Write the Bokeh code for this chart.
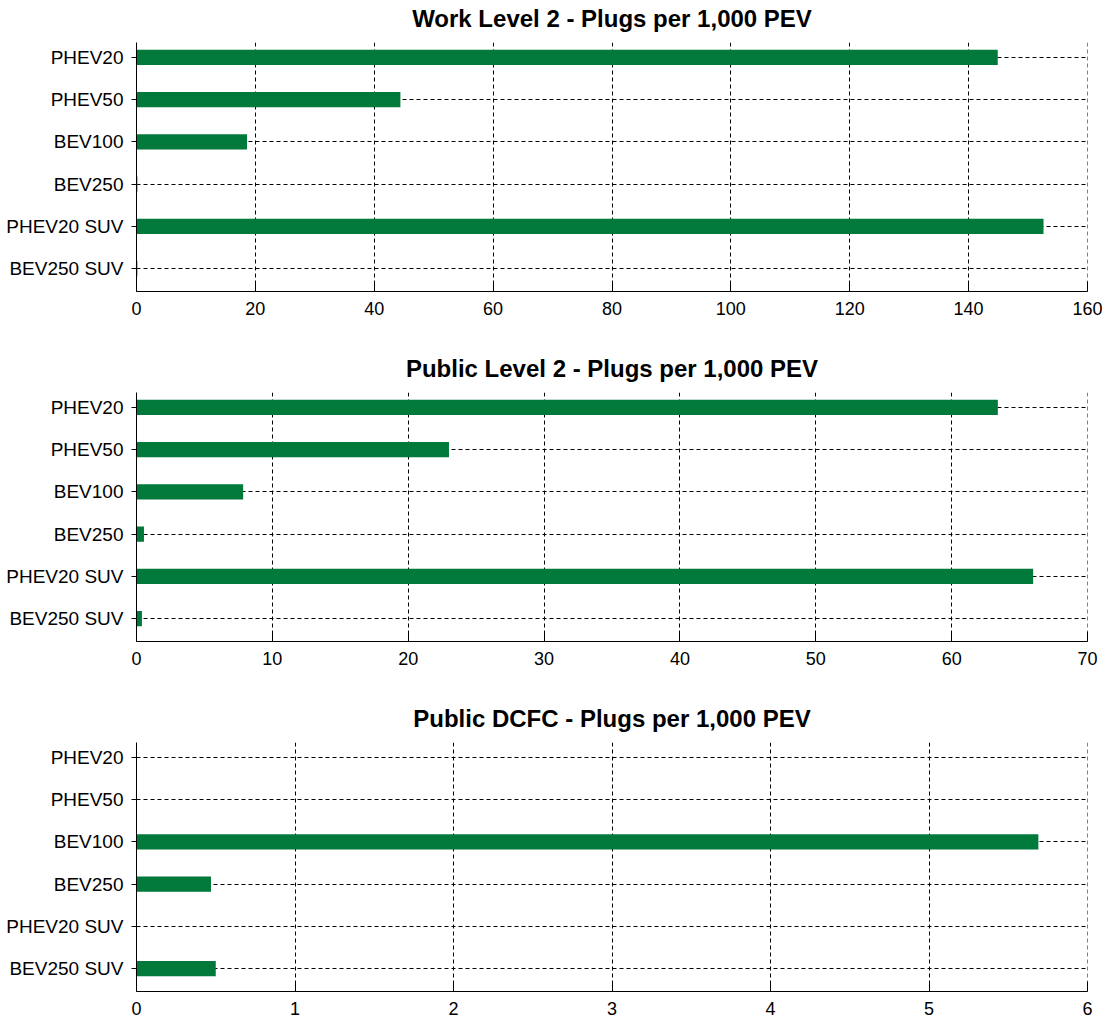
from bokeh.plotting import figure
from bokeh.layouts import column
from bokeh.models import Range1d, FixedTicker, ColumnDataSource, Span, Title
from bokeh.embed import file_html
from bokeh.resources import INLINE

categories = ["PHEV20", "PHEV50", "BEV100", "BEV250", "PHEV20 SUV", "BEV250 SUV"]
work_l2 = [144.9, 44.4, 18.6, 0.15, 152.6, 0.15]
public_l2 = [63.4, 23.0, 7.85, 0.55, 66.0, 0.4]
public_dcfc = [0.0, 0.0, 5.69, 0.47, 0.0, 0.50]

titles = ["Work Level 2 - Plugs per 1,000 PEV",
          "Public Level 2 - Plugs per 1,000 PEV",
          "Public DCFC - Plugs per 1,000 PEV"]
x_max = [160, 70, 6]
x_step = [20, 10, 1]

FONT = "Liberation Sans"
GREEN = "#00793A"


def make(title, values, xmax, step, height, bb):
    ypos = list(range(len(categories)))
    p = figure(width=1102, height=height, output_backend="svg", toolbar_location=None,
               x_range=Range1d(0, xmax), y_range=Range1d(5.54, -0.35),
               min_border_left=136, min_border_right=15, min_border_top=42,
               min_border_bottom=bb)
    src = ColumnDataSource(dict(y=ypos, v=values))
    p.hbar(y="y", left=0, right="v", height=0.36, source=src,
           fill_color=GREEN, line_color=None)

    # small spacer between the frame and the title
    p.add_layout(Title(text=" ", text_font_size="1px", standoff=6), "above")

    p.title.text = title
    p.title.align = "center"
    p.title.text_font = FONT
    p.title.text_font_size = "24px"
    p.title.text_font_style = "bold"
    p.title.text_color = "black"
    p.title.standoff = 4

    p.outline_line_color = None
    p.background_fill_color = "white"
    p.border_fill_color = "white"

    p.xaxis.ticker = FixedTicker(ticks=list(range(0, xmax + 1, step)))
    p.yaxis.ticker = FixedTicker(ticks=ypos)
    p.yaxis.major_label_overrides = {i: c for i, c in zip(ypos, categories)}

    for ax in (p.xaxis, p.yaxis):
        ax.axis_line_color = "black"
        ax.axis_line_width = 1
        ax.major_tick_line_color = "black"
        ax.minor_tick_line_color = None
        ax.major_label_text_font = FONT
        ax.major_label_text_color = "black"
    p.xaxis.major_tick_in = 10
    p.xaxis.major_tick_out = 0
    p.xaxis.major_label_text_font_size = "18px"
    p.xaxis.major_label_standoff = 10
    p.yaxis.major_tick_in = 0
    p.yaxis.major_tick_out = 5
    p.yaxis.major_label_text_font_size = "19px"
    p.yaxis.major_label_standoff = 8

    for g in (p.xgrid, p.ygrid):
        g.grid_line_color = "black"
        g.grid_line_dash = "4 3"
        g.grid_line_width = 1
    p.ygrid.ticker = FixedTicker(ticks=ypos)
    p.add_layout(Span(location=xmax, dimension="height", line_color="black",
                      line_dash="4 3", line_width=1))
    return p


p1 = make(titles[0], work_l2, x_max[0], x_step[0], 350, 59)
p2 = make(titles[1], public_l2, x_max[1], x_step[1], 350, 59)
p3 = make(titles[2], public_dcfc, x_max[2], x_step[2], 319, 28)

layout = column(p1, p2, p3, spacing=0)
open("out.html", "w").write(file_html(layout, INLINE))
